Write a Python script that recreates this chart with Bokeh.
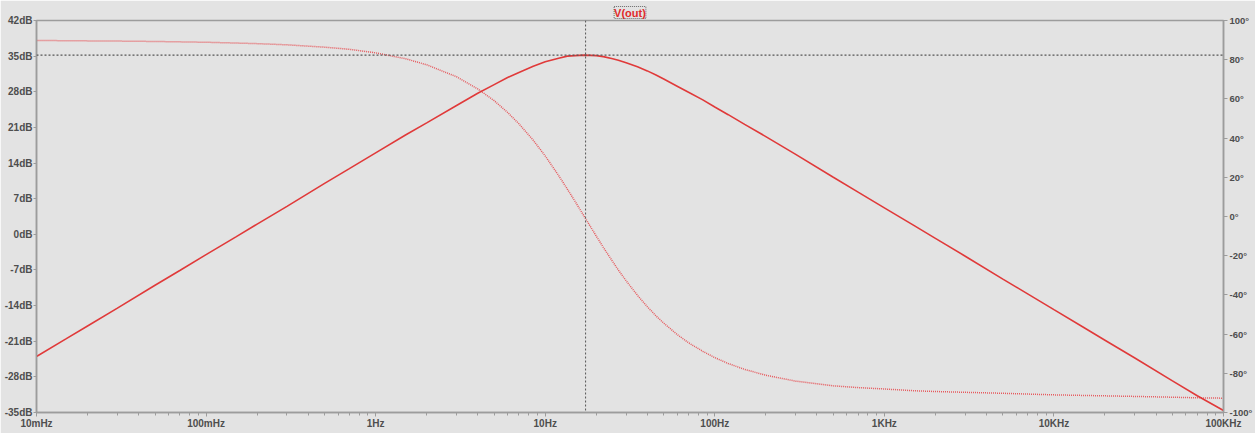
from bokeh.plotting import figure
from bokeh.models import Range1d, LinearAxis, FixedTicker, Span, Title
from bokeh.embed import file_html
from bokeh.resources import INLINE

# ---- data (AC sweep of V(out)) ----
freq_hz = [0.01, 0.015, 0.02, 0.03, 0.05, 0.07, 0.1, 0.15, 0.2, 0.3, 0.5, 0.7,
           1, 1.5, 2, 3, 4, 5, 6, 7, 8.5, 10, 12, 13.5, 15, 17, 20, 22, 25, 27, 30,
           35, 40, 45, 50, 60, 70, 85, 100, 120, 150, 200, 300, 500, 700,
           1000, 1500, 2000, 3000, 5000, 7000,
           10000, 15000, 20000, 30000, 50000, 70000, 100000]
mag_db = [-24.0, -20.5, -18.0, -14.5, -10.0, -7.1, -4.0, -0.5, 2.0, 5.5, 10.0, 12.9,
          16.0, 19.5, 21.9, 25.3, 27.7, 29.4, 30.8, 31.8, 33.0, 33.9, 34.6, 35.0, 35.1, 35.2, 35.1, 34.9, 34.5, 34.2, 33.7,
          32.9, 32.1, 31.3, 30.5, 29.1, 27.9, 26.4, 25.0, 23.5, 21.6, 19.2, 15.7, 11.2, 8.3,
          5.2, 1.7, -0.8, -4.3, -8.8, -11.7,
          -14.8, -18.3, -20.8, -24.3, -28.8, -31.7, -34.6]
phase_deg = [89.8, 89.7, 89.6, 89.5, 89.3, 89.1, 88.9, 88.5, 88.2, 87.6, 86.4, 85.3,
             83.5, 80.5, 77.4, 71.3, 65.1, 59.1, 53.1, 47.3, 38.9, 30.9, 20.9, 14.0, 7.7, 0.0, -10.0, -15.7, -23.0, -27.3, -32.8,
             -40.2, -46.0, -50.7, -54.4, -60.2, -64.4, -68.8, -72.0, -75.0, -78.0, -81.0, -84.0, -86.4, -87.3,
             -88.0, -88.9, -89.3, -89.7, -90.2, -90.6,
             -91.0, -91.3, -91.5, -91.8, -92.2, -92.5, -92.7]

db_ticks = [-35, -28, -21, -14, -7, 0, 7, 14, 21, 28, 35, 42]
db_labels = ["-35dB", "-28dB", "-21dB", "-14dB", "-7dB", "0dB", "7dB", "14dB", "21dB", "28dB", "35dB", "42dB"]
deg_ticks = [-100, -80, -60, -40, -20, 0, 20, 40, 60, 80, 100]
deg_labels = ["-100°", "-80°", "-60°", "-40°", "-20°", "0°", "20°", "40°", "60°", "80°", "100°"]
freq_ticks = [0.01, 0.1, 1, 10, 100, 1000, 10000, 100000]
freq_labels = ["10mHz", "100mHz", "1Hz", "10Hz", "100Hz", "1KHz", "10KHz", "100KHz"]
trace_name = "V(out)"
cursor_freq = 17.3
cursor_db = 35.2

# ---- styling ----
BG = "#e3e3e3"
AX = "#9c9c9c"
TXT = "#4e4e4e"
FONT = "Liberation Sans"

p = figure(width=1255, height=433, x_axis_type="log",
           x_range=Range1d(freq_ticks[0], freq_ticks[-1]),
           y_range=Range1d(db_ticks[0], db_ticks[-1]),
           output_backend="svg", toolbar_location=None,
           background_fill_color=BG, border_fill_color=BG,
           min_border_left=36, min_border_right=32, min_border_top=20, min_border_bottom=21)
p.outline_line_color = AX
p.outline_line_width = 1.5
p.grid.visible = False
p.extra_y_ranges = {"phase": Range1d(deg_ticks[0], deg_ticks[-1])}

minor = [d * m for d in freq_ticks[:-1] for m in range(2, 10)]

def style(ax, size="10px"):
    ax.axis_line_color = AX
    ax.axis_line_width = 1.5
    ax.major_tick_line_color = AX
    ax.minor_tick_line_color = AX
    ax.major_label_text_color = TXT
    ax.major_label_text_font = FONT
    ax.major_label_text_font_style = "bold"
    ax.major_label_text_font_size = size
    ax.major_tick_in = 0
    ax.axis_label_standoff = 0

xa = p.xaxis[0]
xa.ticker = FixedTicker(ticks=freq_ticks, minor_ticks=minor)
xa.major_label_overrides = {t: l for t, l in zip(freq_ticks, freq_labels)}
style(xa, "10px")
xa.major_tick_out = 4
xa.minor_tick_out = 3
xa.minor_tick_in = 0
xa.major_label_standoff = 1

ya = p.yaxis[0]
ya.ticker = FixedTicker(ticks=db_ticks, minor_ticks=[])
ya.major_label_overrides = {t: l for t, l in zip(db_ticks, db_labels)}
style(ya)
ya.major_tick_out = 3
ya.minor_tick_out = 0
ya.major_label_standoff = 1

ra = LinearAxis(y_range_name="phase")
ra.ticker = FixedTicker(ticks=deg_ticks, minor_ticks=[])
ra.major_label_overrides = {t: l for t, l in zip(deg_ticks, deg_labels)}
style(ra, "9.5px")
ra.major_tick_out = 4
ra.minor_tick_out = 0
ra.major_label_standoff = 2
p.add_layout(ra, "right")

p.add_layout(Title(text=trace_name, align="center", text_color="#e02a2a",
                   text_font=FONT, text_font_style="bold", text_font_size="11px",
                   border_line_color="#6a6a6a", border_line_dash="1 1",
                   standoff=4), "above")

p.add_layout(Span(location=cursor_freq, dimension="height", line_color="#555555",
                  line_dash="2 2", line_width=1))
p.add_layout(Span(location=cursor_db, dimension="width", line_color="#555555",
                  line_dash="2 2", line_width=1.2))

p.line(freq_hz, phase_deg, y_range_name="phase", line_color="#e65a5e",
       line_width=1.5, line_dash="1 1")
p.line(freq_hz, mag_db, line_color="#e03a3a", line_width=1.6)

open("out.html", "w").write(file_html(p, INLINE))
